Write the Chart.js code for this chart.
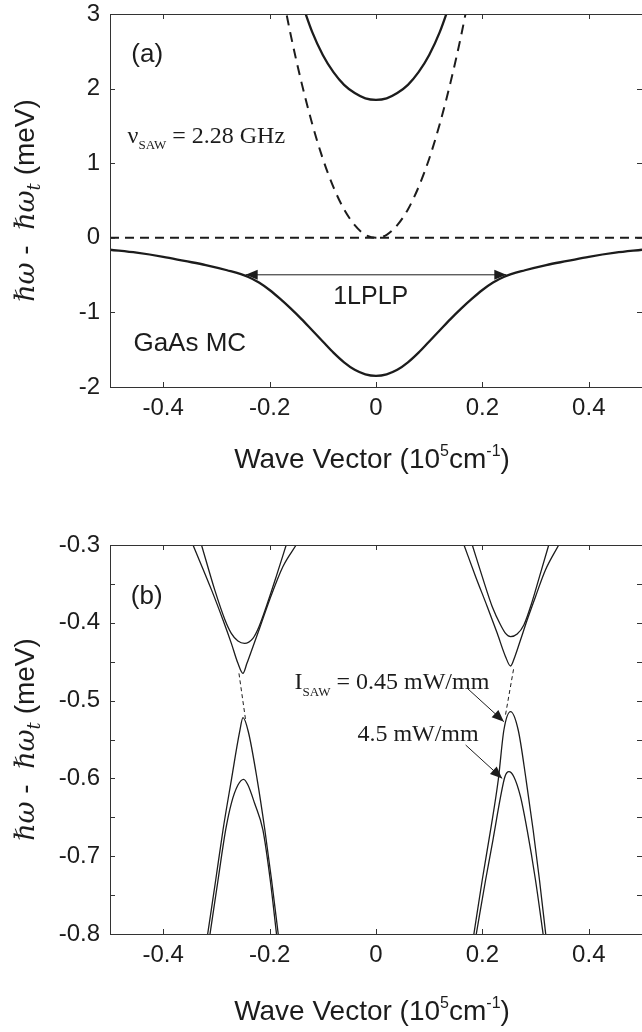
<!DOCTYPE html>
<html>
<head>
<meta charset="utf-8">
<script src="https://cdn.jsdelivr.net/npm/chart.js@4.4.1/dist/chart.umd.min.js"></script>
<style>
  html, body { margin: 0; padding: 0; background: #fff; }
  #wrapA { position: absolute; left: 0; top: 0; width: 642px; height: 490px; }
  #wrapB { position: absolute; left: 0; top: 520px; width: 642px; height: 512px; }
</style>
</head>
<body>
<div id="wrapA"><canvas id="chartA"></canvas></div>
<div id="wrapB"><canvas id="chartB"></canvas></div>
<script>
// ---- panel (a): polariton dispersion ----
const kLP = [-0.50, -0.45, -0.40, -0.36, -0.32, -0.28, -0.24, -0.22, -0.20, -0.18, -0.16, -0.14, -0.12, -0.10, -0.08, -0.06, -0.04, -0.02, 0,
  0.02, 0.04, 0.06, 0.08, 0.10, 0.12, 0.14, 0.16, 0.18, 0.20, 0.22, 0.24, 0.28, 0.32, 0.36, 0.40, 0.45, 0.50];
const eLP = [-0.16, -0.20, -0.255, -0.31, -0.365, -0.435, -0.525, -0.60, -0.70, -0.82, -0.95, -1.09, -1.24, -1.39, -1.54, -1.67, -1.77, -1.83, -1.85,
  -1.83, -1.77, -1.67, -1.54, -1.39, -1.24, -1.09, -0.95, -0.82, -0.70, -0.60, -0.525, -0.435, -0.365, -0.31, -0.255, -0.20, -0.16];
const kUP = [-0.14, -0.12, -0.10, -0.08, -0.06, -0.04, -0.02, 0, 0.02, 0.04, 0.06, 0.08, 0.10, 0.12, 0.14];
const eUP = [3.16, 2.76, 2.45, 2.22, 2.05, 1.94, 1.87, 1.85, 1.87, 1.94, 2.05, 2.22, 2.45, 2.76, 3.16];
const kPhoton = [-0.18, -0.16, -0.14, -0.12, -0.10, -0.08, -0.06, -0.04, -0.02, 0, 0.02, 0.04, 0.06, 0.08, 0.10, 0.12, 0.14, 0.16, 0.18];
const ePhoton = [3.43, 2.71, 2.08, 1.53, 1.06, 0.68, 0.38, 0.17, 0.04, 0, 0.04, 0.17, 0.38, 0.68, 1.06, 1.53, 2.08, 2.71, 3.43];
const kExciton = [-0.5, 0.5];
const eExciton = [0, 0];

// ---- panel (b): folded branches near k = -0.25 and k = +0.25 ----
// "Inner" = 0.45 mW/mm (small gap), "Outer" = 4.5 mW/mm (large gap)
const vOuterL = [[-0.328, -0.300], [-0.303, -0.358], [-0.284, -0.396], [-0.272, -0.4135], [-0.2595, -0.4234], [-0.247, -0.4264],
  [-0.2313, -0.420], [-0.222, -0.4084], [-0.2063, -0.3793], [-0.1876, -0.3407], [-0.1688, -0.300]];
const vInnerL = [[-0.344, -0.300], [-0.309, -0.358], [-0.2876, -0.3964], [-0.2719, -0.4264], [-0.2595, -0.4521], [-0.2501, -0.465],
  [-0.2426, -0.4521], [-0.2313, -0.4307], [-0.2188, -0.4071], [-0.2001, -0.3707], [-0.1751, -0.3279], [-0.1501, -0.300]];
const aInnerL = [[-0.3164, -0.800], [-0.3013, -0.7306], [-0.2876, -0.6663], [-0.2719, -0.6021], [-0.2563, -0.540], [-0.250, -0.522],
  [-0.2400, -0.540], [-0.2232, -0.6021], [-0.2089, -0.6663], [-0.1963, -0.7306], [-0.1838, -0.800]];
const aOuterL = [[-0.3120, -0.800], [-0.2969, -0.7306], [-0.2826, -0.6663], [-0.2719, -0.632], [-0.2595, -0.6085], [-0.2488, -0.6012],
  [-0.2407, -0.6085], [-0.2282, -0.632], [-0.2126, -0.6663], [-0.1988, -0.7306], [-0.1870, -0.800]];
const vOuterR = [[0.181, -0.300], [0.1997, -0.3407], [0.2185, -0.3793], [0.2342, -0.4028], [0.2435, -0.4135], [0.2529, -0.4178],
  [0.2654, -0.4144], [0.2779, -0.4028], [0.2935, -0.3728], [0.3091, -0.3364], [0.3247, -0.300]];
const vInnerR = [[0.1654, -0.300], [0.1873, -0.3407], [0.2092, -0.3793], [0.2279, -0.4135], [0.2435, -0.4435], [0.2529, -0.4555],
  [0.2610, -0.4435], [0.2716, -0.4221], [0.2841, -0.3964], [0.2998, -0.3664], [0.3185, -0.3321], [0.3435, -0.300]];
const aInnerR = [[0.1840, -0.800], [0.1997, -0.7306], [0.2154, -0.6663], [0.2298, -0.6021], [0.2404, -0.5378], [0.2529, -0.5142],
  [0.2673, -0.5378], [0.2822, -0.6021], [0.2954, -0.6663], [0.3073, -0.7306], [0.3190, -0.800]];
const aOuterR = [[0.1885, -0.800], [0.2060, -0.7306], [0.2198, -0.6792], [0.2342, -0.6235], [0.2423, -0.5978], [0.2498, -0.5913],
  [0.2591, -0.5978], [0.2716, -0.6235], [0.2841, -0.6663], [0.2998, -0.7306], [0.3141, -0.800]];
const bareL = [[-0.2576, -0.465], [-0.2451, -0.525]];
const bareR = [[0.2435, -0.518], [0.2595, -0.456]];

// ---- ticks ----
const xTickVals = [-0.4, -0.2, 0, 0.2, 0.4];
const yTickValsA = [-2, -1, 0, 1, 2, 3];
const yTickValsB = [-0.8, -0.75, -0.7, -0.65, -0.6, -0.55, -0.5, -0.45, -0.4, -0.35, -0.3];
const yLabelValsB = [-0.8, -0.7, -0.6, -0.5, -0.4, -0.3];

const SANS = '"Liberation Sans", Arial, sans-serif';
const SERIF = '"Liberation Serif", "Times New Roman", serif';
const MATH = '"DejaVu Serif", serif';
const INK = '#1c1c1c';

const xTitleRun = [['Wave Vector (10', '28px ' + SANS, 0], ['5', '16px ' + SANS, -12], ['cm', '28px ' + SANS, 0],
  ['-1', '16px ' + SANS, -12], [')', '28px ' + SANS, 0]];
const yTitleRun = [['ℏω', 'italic 27px ' + MATH, 0], [' -  ', '28px ' + SANS, 0], ['ℏω', 'italic 27px ' + MATH, 0],
  ['t', 'italic 18px ' + MATH, 6], [' (meV)', '28px ' + SANS, 0]];

const pairs = (ks, es) => ks.map((k, i) => ({ x: k, y: es[i] }));
const pts = (arr) => arr.map(p => ({ x: p[0], y: p[1] }));

function line(data, width, dash) {
  return {
    data: data,
    borderColor: INK,
    borderWidth: width,
    borderDash: dash || [],
    pointRadius: 0,
    fill: false,
    cubicInterpolationMode: 'monotone',
  };
}

function drawRun(ctx, run, cx, base) {
  let w = 0;
  run.forEach(p => { ctx.font = p[1]; w += ctx.measureText(p[0]).width; });
  let x = cx - w / 2;
  ctx.textAlign = 'left';
  run.forEach(p => {
    ctx.font = p[1];
    ctx.fillText(p[0], x, base + p[2]);
    x += ctx.measureText(p[0]).width;
  });
}

function drawRunLeft(ctx, run, x, base) {
  ctx.textAlign = 'left';
  run.forEach(p => {
    ctx.font = p[1];
    ctx.fillText(p[0], x, base + p[2]);
    x += ctx.measureText(p[0]).width;
  });
}

function arrowHead(ctx, x1, y1, x2, y2, len, half) {
  const a = Math.atan2(y2 - y1, x2 - x1);
  const bx = x2 - len * Math.cos(a), by = y2 - len * Math.sin(a);
  ctx.beginPath();
  ctx.moveTo(x2, y2);
  ctx.lineTo(bx + half * Math.sin(a), by - half * Math.cos(a));
  ctx.lineTo(bx - half * Math.sin(a), by + half * Math.cos(a));
  ctx.closePath();
  ctx.fill();
}

function arrow(ctx, x1, y1, x2, y2, both) {
  ctx.beginPath();
  ctx.moveTo(x1, y1);
  ctx.lineTo(x2, y2);
  ctx.stroke();
  arrowHead(ctx, x1, y1, x2, y2, 12, 5);
  if (both) arrowHead(ctx, x2, y2, x1, y1, 12, 5);
}

// frame with inward ticks on all four sides
const framePlugin = {
  id: 'frame',
  afterDatasetsDraw(chart) {
    const { ctx, chartArea: a, scales: { x, y } } = chart;
    ctx.save();
    ctx.strokeStyle = '#333';
    ctx.lineWidth = 1;
    ctx.strokeRect(a.left + 0.5, a.top + 0.5, a.right - a.left, a.bottom - a.top);
    ctx.beginPath();
    x.ticks.forEach(t => {
      const px = Math.round(x.getPixelForValue(t.value)) + 0.5;
      ctx.moveTo(px, a.bottom); ctx.lineTo(px, a.bottom - 5);
      ctx.moveTo(px, a.top); ctx.lineTo(px, a.top + 5);
    });
    y.ticks.forEach(t => {
      const py = Math.round(y.getPixelForValue(t.value)) + 0.5;
      ctx.moveTo(a.left, py); ctx.lineTo(a.left + 5, py);
      ctx.moveTo(a.right, py); ctx.lineTo(a.right - 5, py);
    });
    ctx.stroke();
    ctx.restore();
  }
};

const axisTitles = {
  id: 'axisTitles',
  afterDraw(chart, args, opts) {
    const { ctx, chartArea: a } = chart;
    ctx.save();
    ctx.fillStyle = INK;
    ctx.textBaseline = 'alphabetic';
    drawRun(ctx, xTitleRun, (a.left + a.right) / 2 + opts.xShift, a.bottom + opts.xBase);
    ctx.translate(opts.yBase, (a.top + a.bottom) / 2);
    ctx.rotate(-Math.PI / 2);
    drawRun(ctx, yTitleRun, 0, 0);
    ctx.restore();
  }
};

const notesA = {
  id: 'notesA',
  afterDraw(chart) {
    const { ctx, scales: { x, y } } = chart;
    const P = (k, e) => [x.getPixelForValue(k), y.getPixelForValue(e)];
    ctx.save();
    ctx.fillStyle = INK;
    ctx.strokeStyle = INK;
    ctx.lineWidth = 1;
    ctx.textBaseline = 'middle';
    ctx.textAlign = 'center';
    ctx.font = '26px ' + SANS;
    let p = P(-0.43, 2.45);
    ctx.fillText('(a)', p[0], p[1]);
    p = P(-0.01, -0.79);
    ctx.font = '25px ' + SANS;
    ctx.fillText('1LPLP', p[0], p[1]);
    ctx.textAlign = 'left';
    ctx.font = '26px ' + SANS;
    p = P(-0.456, -1.42);
    ctx.fillText('GaAs MC', p[0], p[1]);
    ctx.textBaseline = 'alphabetic';
    p = P(-0.467, 1.38);
    drawRunLeft(ctx, [['ν', '24px ' + SERIF, 0], ['SAW', '13px ' + SERIF, 6], [' = 2.28 GHz', '24px ' + SERIF, 0]], p[0], p[1] + 8);
    const l = P(-0.245, -0.496), r = P(0.245, -0.496);
    arrow(ctx, l[0], l[1], r[0], r[1], true);
    ctx.restore();
  }
};

const notesB = {
  id: 'notesB',
  afterDraw(chart) {
    const { ctx, scales: { x, y } } = chart;
    const P = (k, e) => [x.getPixelForValue(k), y.getPixelForValue(e)];
    ctx.save();
    ctx.fillStyle = INK;
    ctx.strokeStyle = INK;
    ctx.lineWidth = 1;
    ctx.textBaseline = 'middle';
    ctx.textAlign = 'center';
    ctx.font = '26px ' + SANS;
    let p = P(-0.431, -0.3668);
    ctx.fillText('(b)', p[0], p[1]);
    ctx.textBaseline = 'alphabetic';
    p = P(-0.153, -0.4748);
    drawRunLeft(ctx, [['I', '24px ' + SERIF, 0], ['SAW', '13px ' + SERIF, 7], [' = 0.45 mW/mm', '24px ' + SERIF, 0]], p[0], p[1] + 8);
    p = P(-0.035, -0.5416);
    drawRunLeft(ctx, [['4.5 mW/mm', '24px ' + SERIF, 0]], p[0], p[1] + 8);
    let s = P(0.1716, -0.4842), t = P(0.2404, -0.5271);
    arrow(ctx, s[0], s[1], t[0], t[1], false);
    s = P(0.1685, -0.5571); t = P(0.2372, -0.600);
    arrow(ctx, s[0], s[1], t[0], t[1], false);
    ctx.restore();
  }
};

function scalesFor(yMin, yMax, yTicks, yLabels, xHeight) {
  return {
    x: {
      type: 'linear', min: -0.5, max: 0.5,
      afterBuildTicks: s => { s.ticks = xTickVals.map(v => ({ value: v })); },
      afterFit: s => { s.height = xHeight; s.paddingLeft = 0; s.paddingRight = 0; },
      grid: { display: false, drawTicks: false },
      border: { display: false },
      ticks: { autoSkip: false, maxRotation: 0, padding: 7, color: INK,
        font: { family: SANS, size: 24 }, callback: v => String(v) },
    },
    y: {
      type: 'linear', min: yMin, max: yMax,
      afterBuildTicks: s => { s.ticks = yTicks.map(v => ({ value: v })); },
      // keep the plot box where the figure has it: drop the label overhang padding
      afterFit: s => { s.width = 110; s.paddingTop = 0; s.paddingBottom = 0; },
      grid: { display: false, drawTicks: false },
      border: { display: false },
      ticks: { autoSkip: false, padding: 10, color: INK,
        font: { family: SANS, size: 24 }, callback: v => (yLabels.includes(v) ? String(v) : '') },
    },
  };
}

function baseOptions(top, scales, titles) {
  return {
    responsive: true,
    maintainAspectRatio: false,
    animation: false,
    events: [],
    layout: { padding: { top: top, left: 0, right: 0, bottom: 0 } },
    plugins: { legend: { display: false }, tooltip: { enabled: false }, axisTitles: titles },
    scales: scales,
  };
}

new Chart(document.getElementById('chartA'), {
  type: 'line',
  data: {
    datasets: [
      line(pairs(kExciton, eExciton), 2, [9, 6]),
      line(pairs(kPhoton, ePhoton), 2, [10, 7]),
      line(pairs(kLP, eLP), 2.3),
      line(pairs(kUP, eUP), 2.3),
    ],
  },
  options: baseOptions(14, scalesFor(-2, 3, yTickValsA, yTickValsA, 103), { xBase: 81, xShift: -4, yBase: 34 }),
  plugins: [framePlugin, axisTitles, notesA],
});

new Chart(document.getElementById('chartB'), {
  type: 'line',
  data: {
    datasets: [
      line(pts(bareL), 1, [4, 3]),
      line(pts(bareR), 1, [4, 3]),
      line(pts(vInnerL), 1.3), line(pts(vOuterL), 1.3),
      line(pts(aInnerL), 1.3), line(pts(aOuterL), 1.3),
      line(pts(vInnerR), 1.3), line(pts(vOuterR), 1.3),
      line(pts(aInnerR), 1.3), line(pts(aOuterR), 1.3),
    ],
  },
  options: baseOptions(25, scalesFor(-0.8, -0.3, yTickValsB, yLabelValsB, 98), { xBase: 86, xShift: -4, yBase: 34 }),
  plugins: [framePlugin, axisTitles, notesB],
});
</script>
</body>
</html>
